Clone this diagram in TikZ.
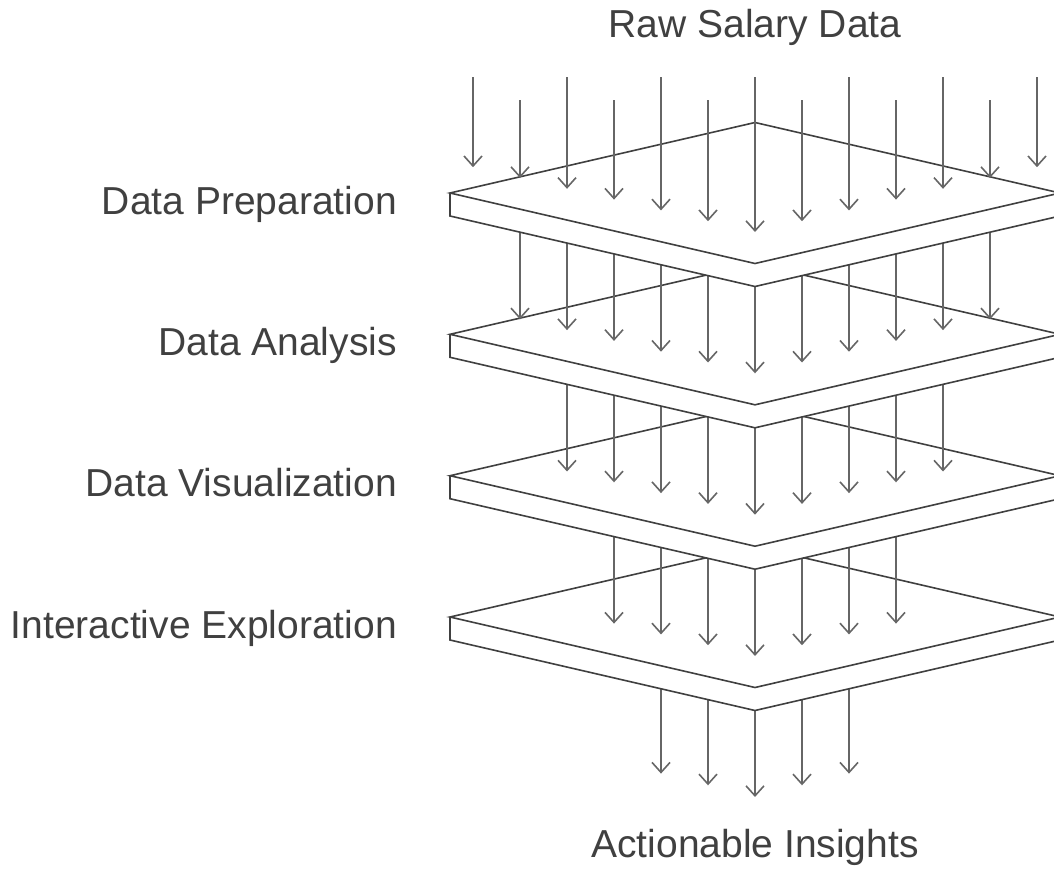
\documentclass[tikz,border=0pt]{standalone}
\usepackage{fontspec}
\setmainfont{Liberation Sans}
\usepackage{tikz}
\usetikzlibrary{arrows.meta}

\definecolor{plategray}{HTML}{404040}
\definecolor{flowgray}{HTML}{666666}
\definecolor{textgray}{HTML}{404040}

\tikzset{
    plateedge/.style={draw=plategray, line width=1.6pt, line join=miter},
    flow/.style={draw=flowgray, line width=1.6pt, -{Straight Barb[length=10pt,width=18pt]}},
    layerlabel/.style={text=textgray, font=\fontsize{39}{46}\selectfont, inner sep=0pt},
}

% one plate, centre height #1
\newcommand{\drawplate}[1]{
    \fill[white] (450,#1) -- (755,#1-70.5) -- (1060,#1) -- (1060,#1+23) -- (755,#1+93.5) -- (450,#1+23) -- cycle;
    \draw[plateedge] (450,#1) -- (755,#1-70.5) -- (1060,#1) -- (755,#1+70.5) -- cycle;
    \draw[plateedge] (450,#1) -- (450,#1+23) -- (755,#1+93.5) -- (1060,#1+23) -- (1060,#1);
}

% arrows from height #1 onto plate at centre #2, columns |k| <= #3
\newcommand{\drawflow}[3]{
    \foreach \k in {-#3,...,#3}{
        \pgfmathsetmacro\xk{755+47*\k}
        \pgfmathsetmacro\yend{#2+39-10.8*abs(\k)}
        \draw[flow] (\xk,#1) -- (\xk,\yend);
    }
}

\begin{document}
\begin{tikzpicture}[x=1pt,y=-1pt]
    \clip (0,0) rectangle (1054,870);

    % output of the last layer
    \foreach \k in {-2,...,2}{
        \pgfmathsetmacro\xk{755+47*\k}
        \pgfmathsetmacro\yend{797-11.7*abs(\k)}
        \draw[flow] (\xk,617) -- (\xk,\yend);
    }
    \drawplate{617}
    \drawflow{475.7}{617}{3}
    \drawplate{475.7}
    \drawflow{334.3}{475.7}{4}
    \drawplate{334.3}
    \drawflow{193}{334.3}{5}
    \drawplate{193}

    % raw input
    \foreach \k in {-6,...,6}{
        \pgfmathsetmacro\xk{755+47*\k}
        \pgfmathsetmacro\ystart{mod(abs(\k),2)==1 ? 100 : 77}
        \pgfmathsetmacro\yend{193+39-10.8*abs(\k)}
        \draw[flow] (\xk,\ystart) -- (\xk,\yend);
    }

    \node[layerlabel, anchor=base] (raw) at (755,37.5) {Raw Salary Data};
    \node[layerlabel, anchor=base east] (prep) at (397,214) {Data Preparation};
    \node[layerlabel, anchor=base east] (analysis) at (397,355.3) {Data Analysis};
    \node[layerlabel, anchor=base east] (vis) at (397,496.7) {Data Visualization};
    \node[layerlabel, anchor=base east] (explore) at (397,638) {Interactive Exploration};
    \node[layerlabel, anchor=base] (insights) at (755,857.5) {Actionable Insights};
\end{tikzpicture}
\end{document}
